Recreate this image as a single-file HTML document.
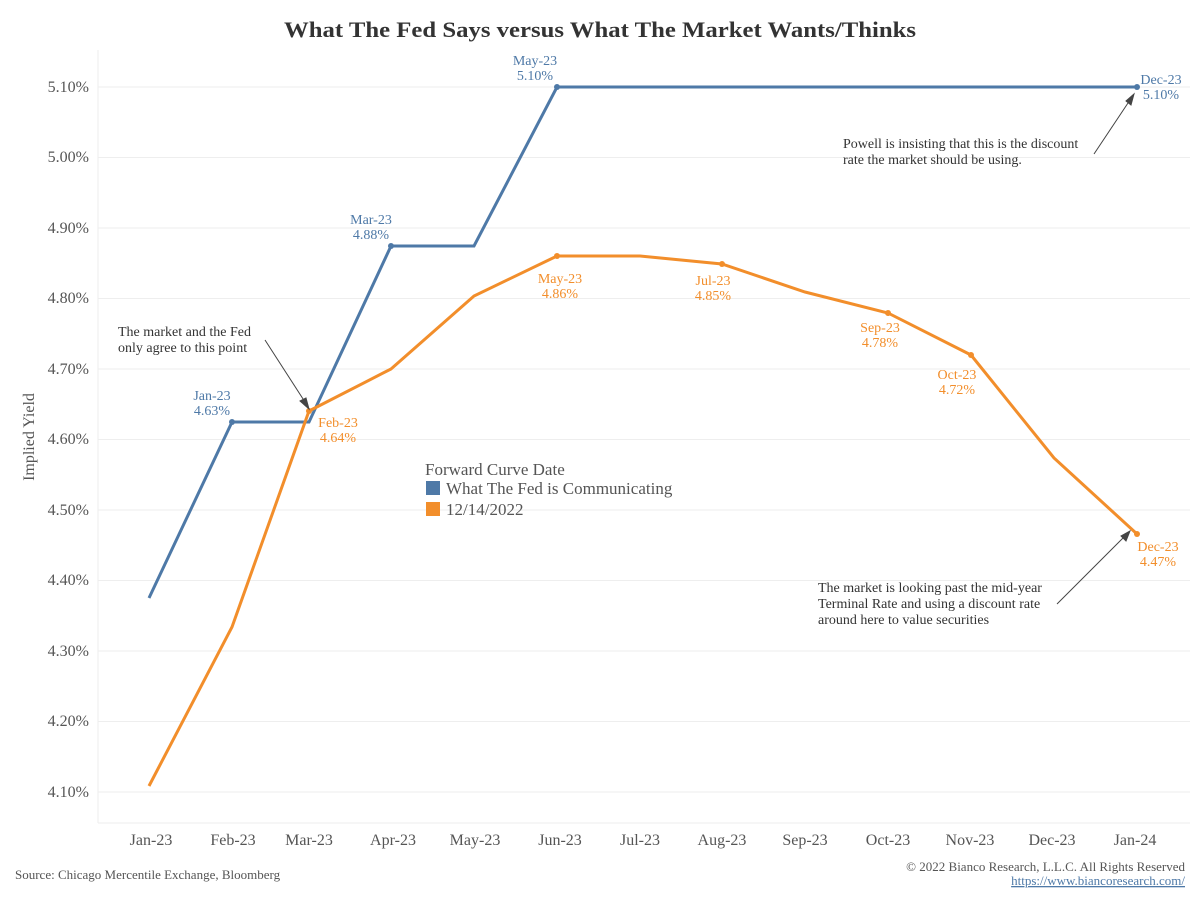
<!DOCTYPE html>
<html><head><meta charset="utf-8"><style>
body{margin:0;background:#fff;}
svg{display:block;font-family:"Liberation Serif",serif;}
</style></head><body>
<svg width="1200" height="900" viewBox="0 0 1200 900" xmlns="http://www.w3.org/2000/svg">
<text x="284" y="37" textLength="632" lengthAdjust="spacingAndGlyphs" font-size="22" font-weight="bold" fill="#333">What The Fed Says versus What The Market Wants/Thinks</text>
<g stroke="#eeeeee" stroke-width="1">
<line x1="98" y1="87" x2="1190" y2="87"/><line x1="98" y1="157.5" x2="1190" y2="157.5"/>
<line x1="98" y1="228" x2="1190" y2="228"/><line x1="98" y1="298.5" x2="1190" y2="298.5"/>
<line x1="98" y1="369" x2="1190" y2="369"/><line x1="98" y1="439.5" x2="1190" y2="439.5"/>
<line x1="98" y1="510" x2="1190" y2="510"/><line x1="98" y1="580.5" x2="1190" y2="580.5"/>
<line x1="98" y1="651" x2="1190" y2="651"/><line x1="98" y1="721.5" x2="1190" y2="721.5"/>
<line x1="98" y1="792" x2="1190" y2="792"/>
<line x1="98" y1="50" x2="98" y2="823"/><line x1="98" y1="823" x2="1190" y2="823"/>
</g>
<g font-size="16" fill="#555" text-anchor="end">
<text x="89" y="92">5.10%</text><text x="89" y="162">5.00%</text><text x="89" y="233">4.90%</text>
<text x="89" y="303">4.80%</text><text x="89" y="374">4.70%</text><text x="89" y="444">4.60%</text>
<text x="89" y="515">4.50%</text><text x="89" y="585">4.40%</text><text x="89" y="656">4.30%</text>
<text x="89" y="726">4.20%</text><text x="89" y="797">4.10%</text>
</g>
<text transform="translate(34,437) rotate(-90)" text-anchor="middle" font-size="16" fill="#555">Implied Yield</text>
<g font-size="16" fill="#555" text-anchor="middle">
<text x="151" y="845">Jan-23</text><text x="233" y="845">Feb-23</text><text x="309" y="845">Mar-23</text>
<text x="393" y="845">Apr-23</text><text x="475" y="845">May-23</text><text x="560" y="845">Jun-23</text>
<text x="640" y="845">Jul-23</text><text x="722" y="845">Aug-23</text><text x="805" y="845">Sep-23</text>
<text x="888" y="845">Oct-23</text><text x="970" y="845">Nov-23</text><text x="1052" y="845">Dec-23</text>
<text x="1135" y="845">Jan-24</text>
</g>
<polyline fill="none" stroke="#4e79a7" stroke-width="3" points="149,598 232,422 309,422 391,246 474,246 557,87 1137,87"/>
<polyline fill="none" stroke="#f28e2b" stroke-width="3" points="149,786 232,627 309,411 391,369 474,296 557,256 640,256 722,264 805,292 888,313 971,355 1054,458 1137,534"/>
<g fill="#4e79a7"><circle cx="232" cy="422" r="3"/><circle cx="391" cy="246" r="3"/><circle cx="557" cy="87" r="3"/><circle cx="1137" cy="87" r="3"/></g>
<g fill="#f28e2b"><circle cx="309" cy="411" r="3"/><circle cx="557" cy="256" r="3"/><circle cx="722" cy="264" r="3"/><circle cx="888" cy="313" r="3"/><circle cx="971" cy="355" r="3"/><circle cx="1137" cy="534" r="3"/></g>
<g font-size="14" fill="#4e79a7" text-anchor="middle">
<text x="212" y="400">Jan-23</text><text x="212" y="415">4.63%</text>
<text x="371" y="224">Mar-23</text><text x="371" y="239">4.88%</text>
<text x="535" y="65">May-23</text><text x="535" y="80">5.10%</text>
<text x="1161" y="84">Dec-23</text><text x="1161" y="99">5.10%</text>
</g>
<g font-size="14" fill="#f28e2b" text-anchor="middle">
<text x="338" y="427">Feb-23</text><text x="338" y="442">4.64%</text>
<text x="560" y="283">May-23</text><text x="560" y="298">4.86%</text>
<text x="713" y="285">Jul-23</text><text x="713" y="300">4.85%</text>
<text x="880" y="332">Sep-23</text><text x="880" y="347">4.78%</text>
<text x="957" y="379">Oct-23</text><text x="957" y="394">4.72%</text>
<text x="1158" y="551">Dec-23</text><text x="1158" y="566">4.47%</text>
</g>
<g font-size="14" fill="#333">
<text x="118" y="336">The market and the Fed</text><text x="118" y="352">only agree to this point</text>
<text x="843" y="148">Powell is insisting that this is the discount</text><text x="843" y="164">rate the market should be using.</text>
<text x="818" y="592">The market is looking past the mid-year</text><text x="818" y="608">Terminal Rate and using a discount rate</text><text x="818" y="624">around here to value securities</text>
</g>
<g stroke="#444" stroke-width="1" fill="#444">
<line x1="265" y1="340" x2="305" y2="402"/><polygon points="309,409 300,401 306,398"/>
<line x1="1094" y1="154" x2="1130" y2="100"/><polygon points="1134,94 1131,105 1126,101"/>
<line x1="1057" y1="604" x2="1124" y2="537"/><polygon points="1130,531 1126,541 1121,536"/>
</g>
<text x="425" y="475" font-size="17" fill="#555">Forward Curve Date</text>
<rect x="426" y="481" width="14" height="14" fill="#4e79a7"/>
<text x="446" y="494" font-size="17" fill="#555">What The Fed is Communicating</text>
<rect x="426" y="502" width="14" height="14" fill="#f28e2b"/>
<text x="446" y="515" font-size="17" fill="#555">12/14/2022</text>
<text x="15" y="879" font-size="13" fill="#555">Source: Chicago Mercentile Exchange, Bloomberg</text>
<text x="1185" y="871" font-size="13" fill="#555" text-anchor="end">© 2022 Bianco Research, L.L.C. All Rights Reserved</text>
<text x="1185" y="885" font-size="13" fill="#4e79a7" text-anchor="end" text-decoration="underline">https://www.biancoresearch.com/</text>
</svg>
</body></html>
